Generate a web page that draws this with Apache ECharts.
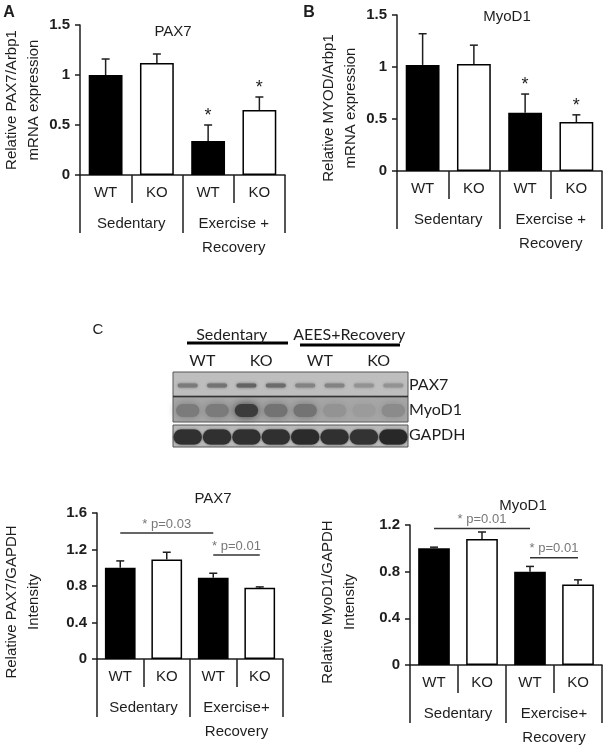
<!DOCTYPE html>
<html>
<head>
<meta charset="utf-8">
<script src="https://cdn.jsdelivr.net/npm/echarts@6/dist/echarts.min.js"></script>
<style>
html, body { margin: 0; padding: 0; background: #fff; }
#main { width: 605px; height: 750px; }
</style>
</head>
<body>
<div id="main"></div>
<script>
// categories
var groups = ['WT', 'KO', 'WT', 'KO'];
var conditionsTop = ['Sedentary', 'Exercise +\nRecovery'];
var conditionsBottom = ['Sedentary', 'Exercise+\nRecovery'];

// A: PAX7 mRNA
var paxMrna = [1.0, 1.12, 0.34, 0.65];
var paxMrnaErr = [0.16, 0.09, 0.16, 0.13];
var paxMrnaStars = ['', '', '*', '*'];
// B: MyoD1 mRNA
var myodMrna = [1.02, 1.03, 0.56, 0.47];
var myodMrnaErr = [0.30, 0.18, 0.18, 0.07];
var myodMrnaStars = ['', '', '*', '*'];
// PAX7 protein
var paxProt = [1.0, 1.09, 0.89, 0.78];
var paxProtErr = [0.075, 0.08, 0.05, 0.01];
var paxProtBrackets = [[0, 2, 1.38, '* p=0.03'], [2, 3, 1.14, '* p=0.01']];
// MyoD1 protein
var myodProt = [1.0, 1.08, 0.80, 0.69];
var myodProtErr = [0.01, 0.06, 0.045, 0.04];
var myodProtBrackets = [[0, 2, 1.17, '* p=0.01'], [2, 3, 0.92, '* p=0.01']];

// western blot (band darkness per lane)
var blotLanes = ['1', '2', '3', '4', '5', '6', '7', '8'];
var blotRows = ['PAX7', 'MyoD1', 'GAPDH'];
var blotGroups = ['WT', 'KO', 'WT', 'KO'];
var blotConditions = ['Sedentary', 'AEES+Recovery'];
var pax7Bands = [0.45, 0.5, 0.6, 0.55, 0.4, 0.4, 0.3, 0.3];
var myod1Bands = [0.45, 0.45, 0.85, 0.5, 0.5, 0.3, 0.25, 0.35];
var gapdhBands = [0.92, 0.92, 0.92, 0.92, 0.95, 0.92, 0.9, 0.97];

var FONT = 'Liberation Sans, Arial, sans-serif';
var BLOTFONT = 'Lato, Open Sans, sans-serif';
var INK = '#1e1e1e';

function errRenderer(stars) {
  return function (params, api) {
    var i = api.value(0), m = api.value(1), e = api.value(2);
    var p0 = api.coord([i, m]);
    var p1 = api.coord([i, m + e]);
    var kids = [
      { type: 'line', shape: { x1: p0[0], y1: p0[1], x2: p1[0], y2: p1[1] }, style: { stroke: INK, lineWidth: 1.5 } },
      { type: 'line', shape: { x1: p1[0] - 4, y1: p1[1], x2: p1[0] + 4, y2: p1[1] }, style: { stroke: INK, lineWidth: 1.5 } }
    ];
    if (stars && stars[params.dataIndex]) {
      kids.push({ type: 'text', x: p1[0], y: p1[1] - 9,
        style: { text: stars[params.dataIndex], font: '18px ' + FONT, fill: INK, align: 'center', verticalAlign: 'middle' } });
    }
    return { type: 'group', children: kids };
  };
}

function bracketRenderer(list) {
  return function (params, api) {
    var a = api.coord([api.value(0), api.value(2)]);
    var c = api.coord([api.value(1), api.value(2)]);
    return { type: 'group', children: [
      { type: 'line', shape: { x1: a[0], y1: a[1], x2: c[0], y2: a[1] }, style: { stroke: '#333', lineWidth: 1.5 } },
      { type: 'text', x: (a[0] + c[0]) / 2, y: a[1] - 9,
        style: { text: list[params.dataIndex][3], font: '13px ' + FONT, fill: '#777', align: 'center', verticalAlign: 'middle' } }
    ] };
  };
}

var option = { backgroundColor: '#fff', animation: false, grid: [], xAxis: [], yAxis: [], series: [], graphic: [] };

function addPanel(k, grid, ymax, yint, yname, gap, pad, labels2, means, errs, stars, brackets) {
  option.grid.push(grid);
  var lineSt = { color: INK, width: 1.5 };
  option.xAxis.push({
    gridIndex: k, type: 'category', data: groups, position: 'bottom',
    axisLine: { show: true, lineStyle: lineSt },
    axisTick: { show: true, length: 28, lineStyle: lineSt },
    axisLabel: { interval: 0, fontFamily: FONT, fontSize: 15, color: INK, margin: 10 }
  });
  option.xAxis.push({
    gridIndex: k, type: 'category', data: labels2, position: 'bottom',
    axisLine: { show: false },
    axisTick: { show: true, length: 58, lineStyle: lineSt },
    axisLabel: { interval: 0, fontFamily: FONT, fontSize: 15, color: INK, margin: 37, lineHeight: 24 }
  });
  option.yAxis.push({
    gridIndex: k, type: 'value', min: 0, max: ymax, interval: yint,
    name: yname, nameLocation: 'middle', nameRotate: 90, nameGap: gap,
    nameTextStyle: { fontFamily: FONT, fontSize: 15, color: INK, lineHeight: 22, padding: [0, pad, 0, 0] },
    axisLine: { show: true, lineStyle: lineSt },
    axisTick: { show: true, length: 5, lineStyle: lineSt },
    splitLine: { show: false },
    axisLabel: { fontFamily: FONT, fontSize: 15, fontWeight: 'bold', color: INK, margin: 10 }
  });
  var xi = k * 2;
  option.series.push({
    type: 'bar', xAxisIndex: xi, yAxisIndex: k, barWidth: '66%', z: 2,
    data: means.map(function (v, i) {
      return { value: v, itemStyle: i % 2 === 0 ? { color: '#000' } : { color: '#fff', borderColor: '#000', borderWidth: 1.5 } };
    })
  });
  option.series.push({
    type: 'custom', xAxisIndex: xi, yAxisIndex: k, z: 3,
    renderItem: errRenderer(stars),
    encode: { x: 0, y: 1 },
    data: means.map(function (v, i) { return [i, v, errs[i]]; })
  });
  if (brackets) {
    option.series.push({
      type: 'custom', xAxisIndex: xi, yAxisIndex: k, z: 3,
      renderItem: bracketRenderer(brackets),
      encode: { x: [0, 1], y: 2 },
      data: brackets.map(function (b) { return [b[0], b[1], b[2]]; })
    });
  }
}

addPanel(0, { left: 79, top: 25, width: 206, height: 150 }, 1.5, 0.5,
  'Relative PAX7/Arbp1\nmRNA expression', 35, 0, conditionsTop, paxMrna, paxMrnaErr, paxMrnaStars, null);
addPanel(1, { left: 397, top: 15, width: 205, height: 156 }, 1.5, 0.5,
  'Relative MYOD/Arbp1\nmRNA expression', 33, 30, conditionsTop, myodMrna, myodMrnaErr, myodMrnaStars, null);
addPanel(2, { left: 96, top: 513, width: 187, height: 146 }, 1.6, 0.4,
  'Relative PAX7/GAPDH\nIntensity', 52, 32, conditionsBottom, paxProt, paxProtErr, null, paxProtBrackets);
addPanel(3, { left: 410, top: 525, width: 192, height: 141 }, 1.2, 0.4,
  'Relative MyoD1/GAPDH\nIntensity', 49, 14, conditionsBottom, myodProt, myodProtErr, null, myodProtBrackets);

// blot grid
option.grid.push({ left: 173, top: 372, width: 235, height: 75 });
option.xAxis.push({ gridIndex: 4, type: 'category', data: blotLanes, show: false });
option.xAxis.push({
  gridIndex: 4, type: 'category', data: blotGroups, position: 'top',
  axisLine: { show: false }, axisTick: { show: false },
  axisLabel: { interval: 0, fontFamily: BLOTFONT, fontSize: 16, color: INK, margin: 3 }
});
option.xAxis.push({
  gridIndex: 4, type: 'category', data: blotConditions, position: 'top',
  axisLine: { show: false }, axisTick: { show: false },
  axisLabel: { interval: 0, fontFamily: BLOTFONT, fontSize: 16, color: INK, margin: 29 }
});
option.yAxis.push({
  gridIndex: 4, type: 'category', data: blotRows, inverse: true, position: 'right',
  axisLine: { show: false }, axisTick: { show: false }, splitLine: { show: false },
  axisLabel: { interval: 0, fontFamily: BLOTFONT, fontSize: 16, color: INK, margin: 1 }
});

var rowFill = ['#bebebe', '#a8a8a8', '#b8b8b8'];
var rowInset = [0, 0, 3];
var bandLook = [{ w: 0.68, h: 4, blur: 3 }, { w: 0.8, h: 13, blur: 8 }, { w: 0.96, h: 15, blur: 2 }];

option.series.push({
  type: 'custom', xAxisIndex: 8, yAxisIndex: 4, z: 1,
  encode: { x: 0, y: 1 },
  data: blotRows.map(function (r, i) { return [0, i]; }),
  renderItem: function (params, api) {
    var r = api.value(1);
    var cs = params.coordSys;
    var c = api.coord([0, r]);
    var h = api.size([0, 1])[1];
    var top = c[1] - h / 2 + rowInset[r];
    var kids = [{ type: 'rect', shape: { x: cs.x, y: top, width: cs.width, height: h - rowInset[r] },
      style: { fill: rowFill[r], stroke: '#555', lineWidth: 1 } }];
    if (r === 0) {
      kids.push({ type: 'line', shape: { x1: cs.x, y1: top + h, x2: cs.x + cs.width, y2: top + h },
        style: { stroke: '#111', lineWidth: 2.5 } });
    }
    return { type: 'group', children: kids };
  }
});

var bandData = [];
[pax7Bands, myod1Bands, gapdhBands].forEach(function (arr, r) {
  arr.forEach(function (v, lane) { bandData.push([lane, r, v]); });
});
option.series.push({
  type: 'custom', xAxisIndex: 8, yAxisIndex: 4, z: 2,
  encode: { x: 0, y: 1 },
  data: bandData,
  renderItem: function (params, api) {
    var r = api.value(1), v = api.value(2);
    var look = bandLook[r];
    var c = api.coord([api.value(0), r]);
    var lw = api.size([1, 0])[0];
    var g = Math.round(195 - v * 160);
    var col = 'rgb(' + g + ',' + g + ',' + g + ')';
    var cy = c[1] + rowInset[r] / 2 + 1;
    var w = lw * look.w;
    return { type: 'rect',
      shape: { x: c[0] - w / 2, y: cy - look.h / 2, width: w, height: look.h, r: look.h / 2 },
      style: { fill: col, shadowBlur: look.blur, shadowColor: col } };
  }
});

// titles, panel letters, blot underlines
function txt(x, y, s, font) {
  return { type: 'text', x: x, y: y, style: { text: s, font: font, fill: INK, align: 'center', verticalAlign: 'middle' } };
}
option.graphic = [
  txt(9, 13, 'A', 'bold 16px ' + FONT),
  txt(309, 13, 'B', 'bold 16px ' + FONT),
  txt(98, 330, 'C', '15px ' + FONT),
  txt(173, 32, 'PAX7', '15px ' + FONT),
  txt(507, 17, 'MyoD1', '15px ' + FONT),
  txt(213, 499, 'PAX7', '15px ' + FONT),
  txt(523, 506, 'MyoD1', '15px ' + FONT),
  { type: 'line', shape: { x1: 187, y1: 343, x2: 288, y2: 343 }, style: { stroke: '#000', lineWidth: 3 } },
  { type: 'line', shape: { x1: 300, y1: 345, x2: 400, y2: 345 }, style: { stroke: '#000', lineWidth: 3 } }
];

var myChart = echarts.init(document.getElementById('main'));
myChart.setOption(option);
</script>
</body>
</html>
